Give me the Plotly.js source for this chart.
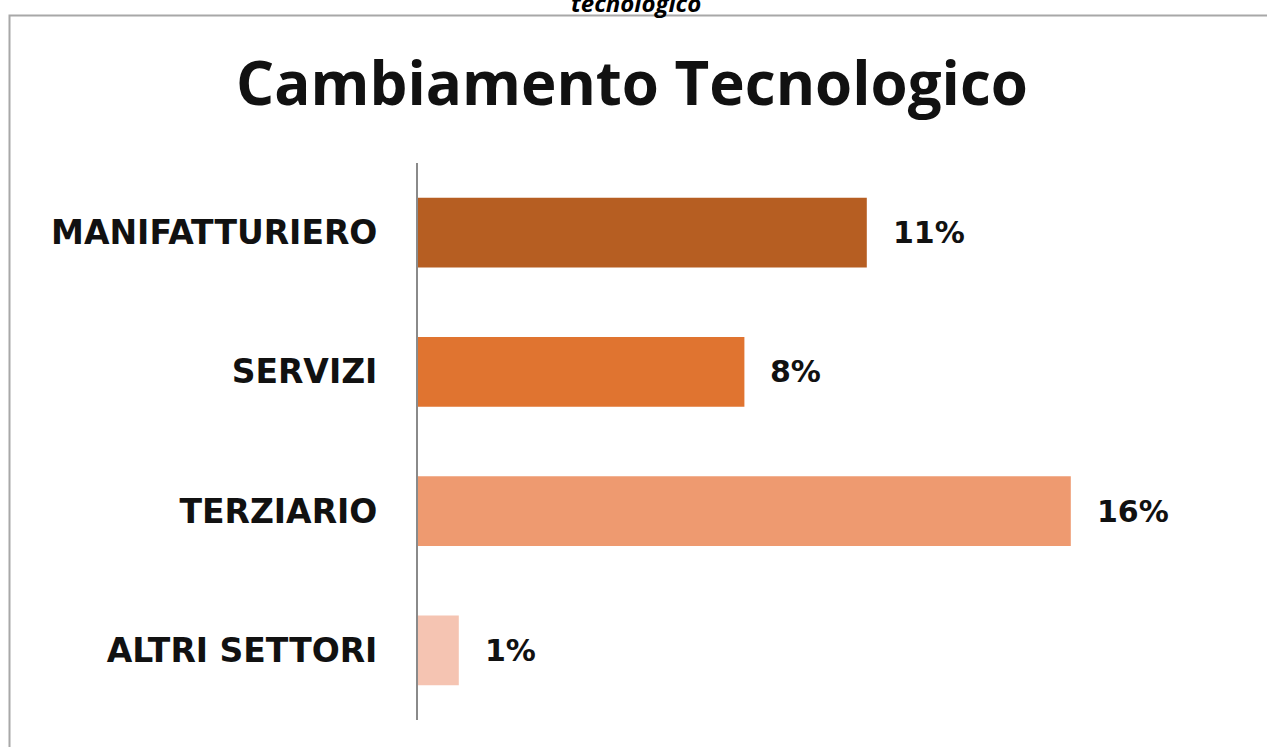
<!DOCTYPE html>
<html>
<head>
<meta charset="utf-8">
<script src="https://cdn.plot.ly/plotly-3.0.1.min.js"></script>
<style>html,body{margin:0;padding:0;background:#fff;}#chart{width:1267px;height:747px;}</style>
</head>
<body>
<div id="chart"></div>
<script>
const categories = ["MANIFATTURIERO", "SERVIZI", "TERZIARIO", "ALTRI SETTORI"];
const values = [11, 8, 16, 1];
const barColors = ["#B65E22", "#E07430", "#EE9A70", "#F5C4B2"];
const titleText = "Cambiamento Tecnologico";
const topCutText = "tecnologico";

const W = 1267, H = 747;
const L = 418, T = 163, B = 27, PW = 800;
const PH = H - T - B;
const px2x = p => (p - L) / PW;
const py2y = p => (H - B - p) / PH;

const trace = {
  type: "bar",
  orientation: "h",
  y: categories,
  x: values,
  width: 0.5,
  marker: { color: barColors, line: { width: 0 } },
  hoverinfo: "none"
};

const annotations = categories.map((c, i) => ({
  x: values[i], y: c, xref: "x", yref: "y",
  text: values[i] + "%", showarrow: false,
  xanchor: "left", yanchor: "middle", xshift: 24,
  font: { family: "DejaVu Sans", size: 30, color: "#111", weight: "bold" }
}));
annotations.push({
  x: px2x(636), y: py2y(2), xref: "paper", yref: "paper",
  text: "<b><i>" + topCutText + "</i></b>", showarrow: false,
  xanchor: "center", yanchor: "middle",
  font: { family: "Open Sans", size: 24, color: "#000" }
});

const layout = {
  width: W, height: H,
  margin: { l: L, r: W - L - PW, t: T, b: B, pad: 0 },
  paper_bgcolor: "#fff", plot_bgcolor: "#fff",
  showlegend: false,
  title: {
    text: "<b>" + titleText + "</b>",
    font: { family: "Open Sans", size: 60, color: "#111" },
    x: 632 / W, xanchor: "center",
    yref: "container", y: 1 - 84 / H, yanchor: "middle"
  },
  xaxis: { range: [0, PW / 40.8], visible: false, fixedrange: true },
  yaxis: {
    type: "category", categoryorder: "array", categoryarray: categories,
    range: [3.5, -0.5],
    showline: true, linecolor: "#8a8a8a", linewidth: 2,
    showgrid: false, zeroline: false, ticks: "",
    ticklabelstandoff: 32,
    tickfont: { family: "DejaVu Sans", size: 33, color: "#111", weight: "bold" }
  },
  annotations: annotations,
  shapes: [{
    type: "rect", xref: "paper", yref: "paper",
    x0: px2x(9.5), x1: px2x(1275), y0: py2y(15.5), y1: py2y(760),
    line: { color: "#a8a8a8", width: 2 }, fillcolor: "rgba(0,0,0,0)", layer: "below"
  }]
};

Plotly.newPlot("chart", [trace], layout, { staticPlot: true, displayModeBar: false });
</script>
</body>
</html>
